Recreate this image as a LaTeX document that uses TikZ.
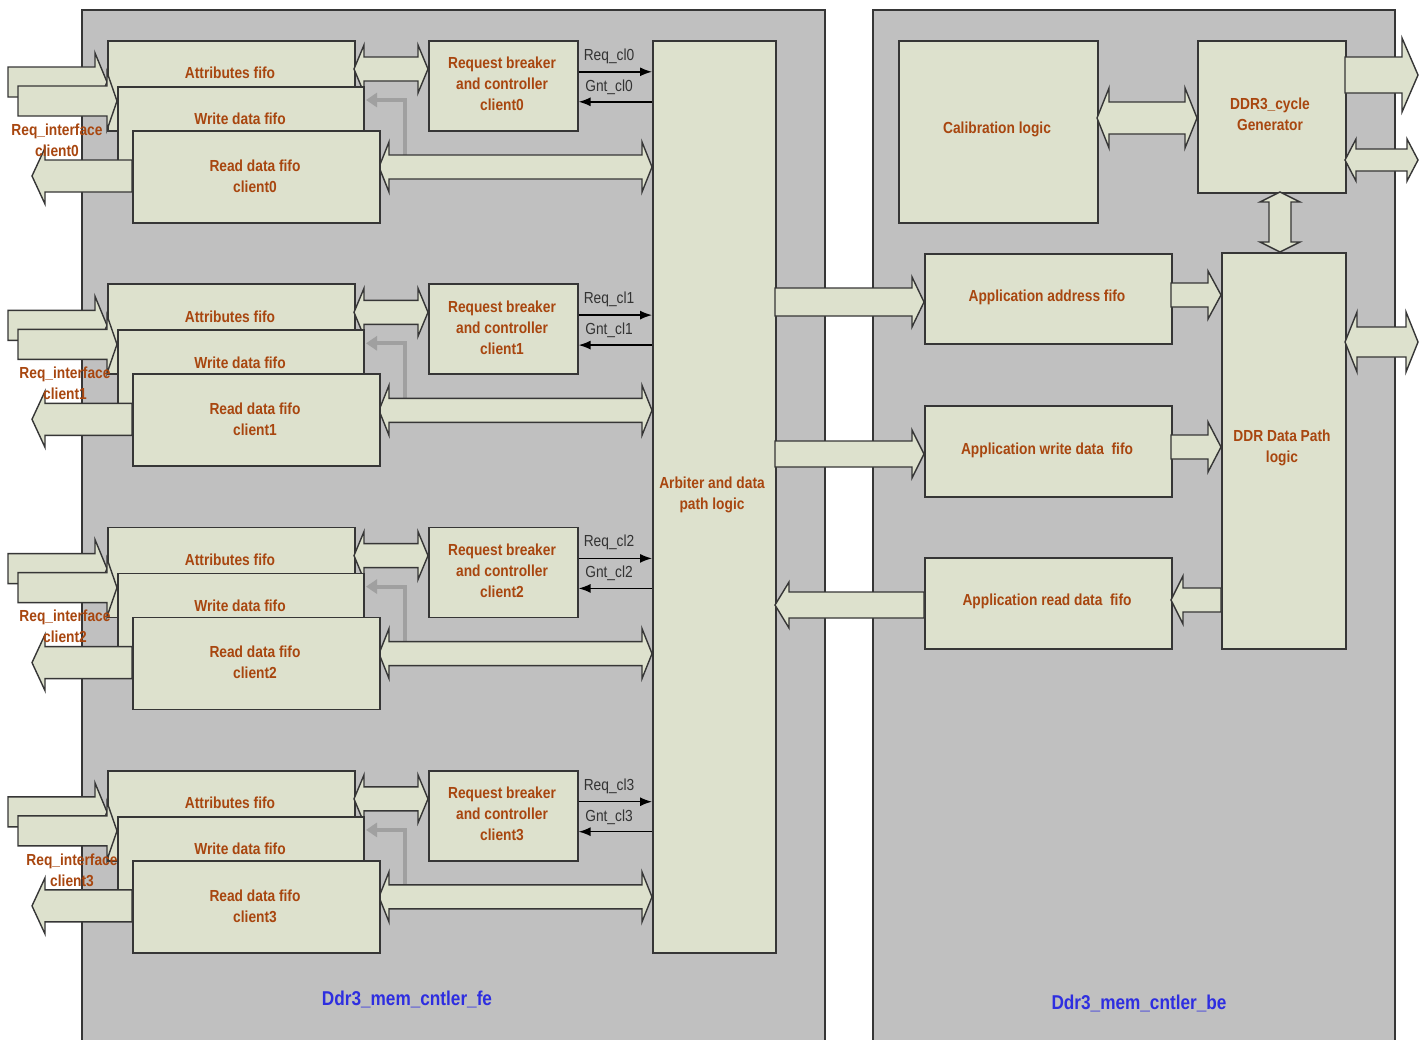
\documentclass[tikz,border=0pt]{standalone}
\usepackage{fontspec}
\setmainfont{Liberation Sans}
\newfontfamily\narrowsans{Liberation Sans}[FakeStretch=0.86]
\usetikzlibrary{arrows.meta}
\definecolor{panel}{HTML}{C0C0C0}
\definecolor{boxfill}{HTML}{DDE1CD}
\definecolor{edge}{HTML}{363636}
\definecolor{txt}{HTML}{A8460F}
\definecolor{lbl}{HTML}{2E2EE0}
\definecolor{sigtxt}{HTML}{333333}
\definecolor{fbgray}{HTML}{A0A0A0}
% block arrows: right, left, double horizontal, double vertical
\newcommand\rarr[6]{\filldraw[blk] (#1,{#3-#4}) -- ({#2-#6},{#3-#4}) -- ({#2-#6},{#3-#5}) -- (#2,#3) -- ({#2-#6},{#3+#5}) -- ({#2-#6},{#3+#4}) -- (#1,{#3+#4}) -- cycle;}
\newcommand\larr[6]{\filldraw[blk] (#1,#3) -- ({#1+#6},{#3-#5}) -- ({#1+#6},{#3-#4}) -- (#2,{#3-#4}) -- (#2,{#3+#4}) -- ({#1+#6},{#3+#4}) -- ({#1+#6},{#3+#5}) -- cycle;}
\newcommand\lrarr[6]{\filldraw[blk] (#1,#3) -- ({#1+#6},{#3-#5}) -- ({#1+#6},{#3-#4}) -- ({#2-#6},{#3-#4}) -- ({#2-#6},{#3-#5}) -- (#2,#3) -- ({#2-#6},{#3+#5}) -- ({#2-#6},{#3+#4}) -- ({#1+#6},{#3+#4}) -- ({#1+#6},{#3+#5}) -- cycle;}
\newcommand\udarr[6]{\filldraw[blk] (#1,#2) -- ({#1+#5},{#2+#6}) -- ({#1+#4},{#2+#6}) -- ({#1+#4},{#3-#6}) -- ({#1+#5},{#3-#6}) -- (#1,#3) -- ({#1-#5},{#3-#6}) -- ({#1-#4},{#3-#6}) -- ({#1-#4},{#2+#6}) -- ({#1-#5},{#2+#6}) -- cycle;}
\begin{document}
\begin{tikzpicture}[x=1pt,y=-1pt,line join=miter,
 box/.style={draw=edge, fill=boxfill, line width=1.6pt, inner sep=0pt, anchor=north west},
 blk/.style={draw=edge, fill=boxfill, line width=1.4pt},
 btxt/.style={font=\narrowsans\fontsize{16}{21}\selectfont\bfseries, text=txt, align=center, inner sep=0pt},
 stxt/.style={font=\narrowsans\fontsize{16}{17}\selectfont, text=sigtxt, inner sep=0pt},
 sig/.style={draw=black, line width=1.4pt, -{Latex[length=12pt,width=9pt]}},
 fb/.style={draw=fbgray, line width=4pt, -{Triangle[length=11pt,width=14pt]}},
 ptxt/.style={font=\narrowsans\fontsize{20}{22}\selectfont\bfseries, text=lbl, inner sep=0pt},
 pnl/.style={fill=panel, draw=edge, line width=1.5pt}]
\useasboundingbox (0,0) rectangle (1426,1039);
\fill[white] (0,0) rectangle (1426,1039);
% panels
\filldraw[pnl] (82,1045) -- (82,10) -- (825,10) -- (825,1045);
\filldraw[pnl] (873,1045) -- (873,10) -- (1395,10) -- (1395,1045);
\node[ptxt] (fe) at (407,999) {Ddr3\_mem\_cntler\_fe};
\node[ptxt] (be) at (1139,1003) {Ddr3\_mem\_cntler\_be};
% arbiter
\node[box, minimum width=123pt, minimum height=912pt] (arb) at (652,40) {};
\node[btxt] (arbT) at (712,495) {Arbiter and data\\path logic};
% client groups
\foreach \k/\lx in {0/57,1/65,2/65,3/72}{
 \pgfmathsetmacro\o{243.3*\k}
 \rarr{8}{107}{82+\o}{15}{29}{12}
 \node[box, minimum width=247pt, minimum height=90pt] (attr\k) at (107,{40+\o}) {};
 \lrarr{354}{428}{69+\o}{12}{24}{10}
 \rarr{18}{117}{101+\o}{15}{29}{10}
 \node[box, minimum width=246pt, minimum height=74pt] (wr\k) at (117,{86+\o}) {};
 \draw[fb] (405,{158+\o}) -- (405,{100+\o}) -- (366,{100+\o});
 \lrarr{379}{652}{167+\o}{12}{25}{10}
 \larr{32}{132}{176+\o}{16}{28}{13}
 \node[box, minimum width=247pt, minimum height=92pt] (rd\k) at (132,{130+\o}) {};
 \node[btxt] (attrT\k) at (230,{73+\o}) {Attributes fifo};
 \node[btxt] (wrT\k) at (240,{119+\o}) {Write data fifo};
 \node[btxt] (rdT\k) at (255,{176+\o}) {Read data fifo\\client\k};
 \node[box, minimum width=149pt, minimum height=90pt] (rb\k) at (428,{40+\o}) {};
 \node[btxt] (rbT\k) at (502,{84+\o}) {Request breaker\\and controller\\client\k};
 \draw[sig] ([yshift=14pt]rb\k.east) -- ([yshift=14pt]rb\k.east -| arb.west);
 \draw[sig] ([yshift=-16pt]rb\k.east -| arb.west) -- ([yshift=-16pt]rb\k.east);
 \node[stxt] (req\k) at (609,{56+\o}) {Req\_cl\k};
 \node[stxt] (gnt\k) at (609,{87+\o}) {Gnt\_cl\k};
 \node[btxt] (ri\k) at (\lx,{140+\o}) {Req\_interface\\client\k};
}
% back end
\node[box, minimum width=199pt, minimum height=182pt] (cal) at (898,40) {};
\node[btxt] at (997,129) (calT) {Calibration logic};
\node[box, minimum width=148pt, minimum height=152pt] (cyc) at (1197,40) {};
\node[btxt] (cycT) at (1270,114) {DDR3\_cycle\\Generator};
\node[box, minimum width=124pt, minimum height=396pt] (ddr) at (1221,252) {};
\node[btxt] (ddrT) at (1282,448) {DDR Data Path\\logic};
\node[box, minimum width=247pt, minimum height=90pt] (aaf) at (924,253) {};
\node[btxt] (aafT) at (1047,297) {Application address fifo};
\node[box, minimum width=247pt, minimum height=91pt] (awf) at (924,405) {};
\node[btxt] (awfT) at (1047,450) {Application write data~~fifo};
\node[box, minimum width=247pt, minimum height=91pt] (arf) at (924,557) {};
\node[btxt] (arfT) at (1047,601) {Application read data~~fifo};
% back-end block arrows
\rarr{775}{924}{302}{14}{25}{12}
\rarr{775}{924}{454}{13}{24}{12}
\larr{775}{924}{605}{13}{23}{14}
\rarr{1171}{1221}{295}{12}{24}{13}
\rarr{1171}{1221}{447}{12}{25}{13}
\larr{1171}{1221}{600}{12}{24}{12}
\lrarr{1097}{1197}{118}{16}{30}{12}
\rarr{1345}{1418}{75}{18}{37}{16}
\lrarr{1345}{1418}{160}{11}{21}{11}
\udarr{1280}{192}{252}{11}{20}{10}
\lrarr{1345}{1418}{342}{15}{30}{12}
\end{tikzpicture}
\end{document}
